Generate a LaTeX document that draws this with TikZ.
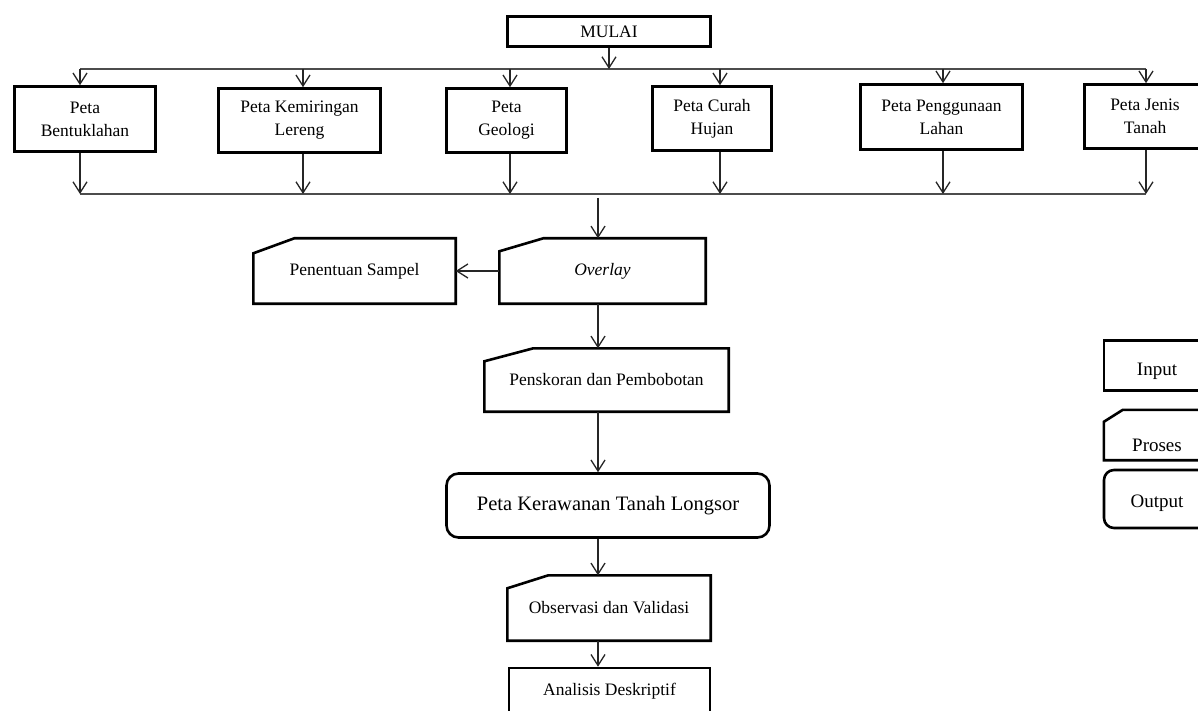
\documentclass[tikz,border=0pt]{standalone}
\usepackage{fontspec}
\setmainfont{Liberation Serif}
\usetikzlibrary{arrows.meta}
\newcommand\procoutline[3]{\draw[boxline] ([yshift=-#3pt]#1.north west) -- ([xshift=#2pt]#1.north west) -- (#1.north east) -- (#1.south east) -- (#1.south west) -- cycle;}
\begin{document}
\begin{tikzpicture}[x=1pt,y=-1pt,
  sz/.style 2 args={minimum width=#1pt, minimum height=#2pt},
  boxline/.style={draw, line width=2.6pt, line join=miter},
  box/.style={rectangle, inner sep=0pt, align=center, font=\fontsize{17.5}{23}\selectfont},
  inbox/.style={box, boxline},
  procbox/.style={box},
  outbox/.style={box, boxline, rounded corners=12pt},
  arr/.style={draw=black!85, line width=1.3pt, -{Straight Barb[length=11pt,width=14pt]}},
  bus/.style={draw=black!70, line width=1.5pt},
  legtext/.style={font=\fontsize{19}{23}\selectfont}]
\useasboundingbox (0,0) rectangle (1198,711);
\fill[white] (0,0) rectangle (1198,711);
\clip (0,0) rectangle (1198,711);

% start
\node[inbox, sz={203}{30}] (mulai) at (609,31.5) {MULAI};

% inputs
\node[inbox, sz={141}{65}] (b1) at (85,119) {Peta\\Bentuklahan};
\node[inbox, sz={162}{64}] (b2) at (299.5,120.5) {Peta Kemiringan\\Lereng};
\node[inbox, sz={120}{64}] (b3) at (506.5,120.5) {Peta\\Geologi};
\node[inbox, sz={119}{64}] (b4) at (712,118.5) {Peta Curah\\Hujan};
\node[inbox, sz={162}{65}] (b5) at (941.5,117) {Peta Penggunaan\\Lahan};
\node[inbox, sz={121}{64}] (b6) at (1145,116.5) {Peta Jenis\\Tanah};

% bus coordinates
\coordinate (tb1) at (80,69);
\coordinate (tb2) at (303,69);
\coordinate (tb3) at (510,69);
\coordinate (tb4) at (720,69);
\coordinate (tb5) at (943,69);
\coordinate (tb6) at (1146,69);
\coordinate (bb1) at (80,194);
\coordinate (bb2) at (303,194);
\coordinate (bb3) at (510,194);
\coordinate (bb4) at (720,194);
\coordinate (bb5) at (943,194);
\coordinate (bb6) at (1146,194);
\coordinate (bj) at (598,194);

\draw[bus] (tb1) -- (tb6);
\draw[bus] (bb1) -- (bb6);
\draw[arr] (mulai.south) -- (mulai.south |- tb1);
\foreach \i in {1,...,6}{
  \draw[arr] (tb\i) -- (tb\i |- b\i.north);
  \draw[arr] (bb\i |- b\i.south) -- (bb\i);
}

% process chain
\node[procbox, sz={206}{65}] (ov) at (602.5,271) {\textit{Overlay}};
\procoutline{ov}{44}{13}
\node[procbox, sz={202}{65}] (ps) at (354.5,271) {Penentuan Sampel};
\procoutline{ps}{41}{15}
\node[procbox, sz={244}{63}] (pk) at (606.5,380) {Penskoran dan Pembobotan};
\procoutline{pk}{49}{13}
\node[outbox, sz={323}{64}, font=\fontsize{20.5}{24}\selectfont] (kr) at (608,505.5) {Peta Kerawanan Tanah Longsor};
\node[procbox, sz={203}{65}] (obs) at (609,608) {Observasi dan Validasi};
\procoutline{obs}{41}{13}
\node[inbox, sz={201}{46}] (an) at (609.5,691) {Analisis Deskriptif};

\draw[arr] ([yshift=-4pt]bj) -- (bj |- ov.north);
\draw[arr] (ov.west) -- (ps.east);
\draw[arr] (bj |- ov.south) -- (bj |- pk.north);
\draw[arr] (bj |- pk.south) -- (bj |- kr.north);
\draw[arr] (bj |- kr.south) -- (bj |- obs.north);
\draw[arr] (bj |- obs.south) -- (bj |- an.north);

% legend
\node[inbox, sz={106}{50}, label={[legtext, yshift=-6pt]center:Input}] (lin) at (1157,365.5) {};
\node[procbox, sz={106}{50}, label={[legtext, yshift=-10pt]center:Proses}] (lpr) at (1157,435) {};
\procoutline{lpr}{19}{12}
\node[outbox, sz={106}{58}, rounded corners=10pt, label={[legtext, yshift=-4pt]center:Output}] (lout) at (1157,499) {};
\end{tikzpicture}
\end{document}
